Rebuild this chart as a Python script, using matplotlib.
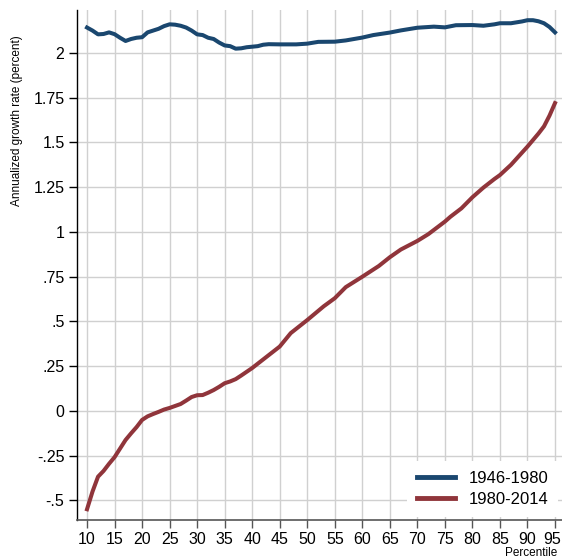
import numpy as np
import matplotlib
matplotlib.use('Agg')
import matplotlib.pyplot as plt
import matplotlib.transforms as mtransforms

plt.rcParams['font.family'] = ['Liberation Sans', 'DejaVu Sans']

# 1946-1980
pct_a = [10, 11, 12, 13, 14, 15, 16, 17, 18, 19, 20, 21, 22, 23, 24, 25, 26, 27, 28, 29,
         30, 31, 32, 33, 34, 35, 36, 37, 38, 39, 40, 41, 42, 43, 45, 48, 50, 52, 55, 57,
         60, 62, 65, 67, 70, 73, 75, 77, 80, 82, 84, 85, 87, 89, 90, 91, 92, 93, 94, 95]
growth_a = [2.142, 2.125, 2.104, 2.106, 2.115, 2.105, 2.085, 2.067, 2.078, 2.085,
            2.088, 2.115, 2.125, 2.135, 2.150, 2.160, 2.158, 2.152, 2.142, 2.125,
            2.104, 2.100, 2.085, 2.078, 2.058, 2.042, 2.038, 2.024, 2.026, 2.032,
            2.035, 2.038, 2.046, 2.049, 2.048, 2.048, 2.052, 2.062, 2.063, 2.070,
            2.086, 2.100, 2.114, 2.126, 2.141, 2.147, 2.143, 2.155, 2.156, 2.152,
            2.160, 2.166, 2.166, 2.176, 2.183, 2.183, 2.177, 2.166, 2.145, 2.115]

# 1980-2014
pct_b = [10, 11, 12, 13, 14, 15, 16, 17, 18, 19, 20, 21, 22, 23, 24, 25, 26, 27, 28, 29,
         30, 31, 32, 33, 34, 35, 36, 37, 38, 40, 42, 45, 47, 50, 53, 55, 57, 60, 63, 65,
         67, 70, 72, 75, 76, 78, 80, 82, 84, 85, 87, 90, 92, 93, 94, 95]
growth_b = [-0.549, -0.45, -0.367, -0.335, -0.295, -0.258, -0.21, -0.162, -0.125, -0.09,
            -0.05, -0.03, -0.017, -0.005, 0.008, 0.017, 0.028, 0.039, 0.058, 0.078,
            0.088, 0.089, 0.102, 0.117, 0.135, 0.155, 0.165, 0.178, 0.198, 0.24,
            0.288, 0.36, 0.435, 0.508, 0.585, 0.63, 0.692, 0.75, 0.81, 0.859,
            0.902, 0.95, 0.988, 1.058, 1.085, 1.132, 1.194, 1.248, 1.296, 1.318,
            1.375, 1.477, 1.55, 1.59, 1.65, 1.72]

xticks = np.arange(10, 96, 5)
yticks = [-0.5, -0.25, 0, 0.25, 0.5, 0.75, 1, 1.25, 1.5, 1.75, 2]
ylabels = ['-.5', '-.25', '0', '.25', '.5', '.75', '1', '1.25', '1.5', '1.75', '2']

fig = plt.figure(figsize=(5.62, 5.60), dpi=100)
ax = fig.add_axes([77 / 562, 40 / 560, 485 / 562, 510 / 560])

ax.plot(pct_a, growth_a, color='#1a476f', linewidth=2.9, label='1946-1980', zorder=3)
ax.plot(pct_b, growth_b, color='#90353b', linewidth=2.9, label='1980-2014', zorder=3)

ax.set_xlim(8.18, 96.27)
ax.set_ylim(-0.609, 2.24)
ax.set_xticks(xticks)
ax.set_yticks(yticks)
ax.set_yticklabels(ylabels)
ax.grid(True, color='#d0d0d0', linewidth=1.0)
ax.set_axisbelow(True)

for s in ['top', 'right']:
    ax.spines[s].set_visible(False)
ax.spines['left'].set_color('black')
ax.spines['left'].set_linewidth(1.0)
ax.spines['bottom'].set_color('#555555')
ax.spines['bottom'].set_linewidth(1.2)
ax.tick_params(axis='both', direction='out', length=6, width=1.0, labelsize=11.5, pad=3)
ax.tick_params(axis='y', color='black')
ax.tick_params(axis='x', color='#555555')

# last x label sits at the right edge; nudge it in a little so it stays whole
last = ax.get_xticklabels()[-1]
last.set_transform(last.get_transform() + mtransforms.ScaledTranslation(-3 / 100, 0, fig.dpi_scale_trans))

fig.text(17 / 562, 1 - 121 / 560, 'Annualized growth rate (percent)', rotation=90,
         ha='center', va='center', fontsize=8.5)
fig.text(505 / 562, 1 - 553 / 560, 'Percentile', ha='left', va='center', fontsize=8.5)

leg = ax.legend(loc='lower right', bbox_to_anchor=(558 / 562, 1 - 517 / 560),
                bbox_transform=fig.transFigure, borderaxespad=0, fontsize=12,
                handlelength=2.3, handletextpad=0.8, labelspacing=0.35,
                frameon=True, fancybox=False, borderpad=0.6)
leg.get_frame().set_facecolor('white')
leg.get_frame().set_edgecolor('none')
leg.get_frame().set_alpha(1)
for line in leg.get_lines():
    line.set_linewidth(3.5)

plt.savefig('out.png', dpi=100)
